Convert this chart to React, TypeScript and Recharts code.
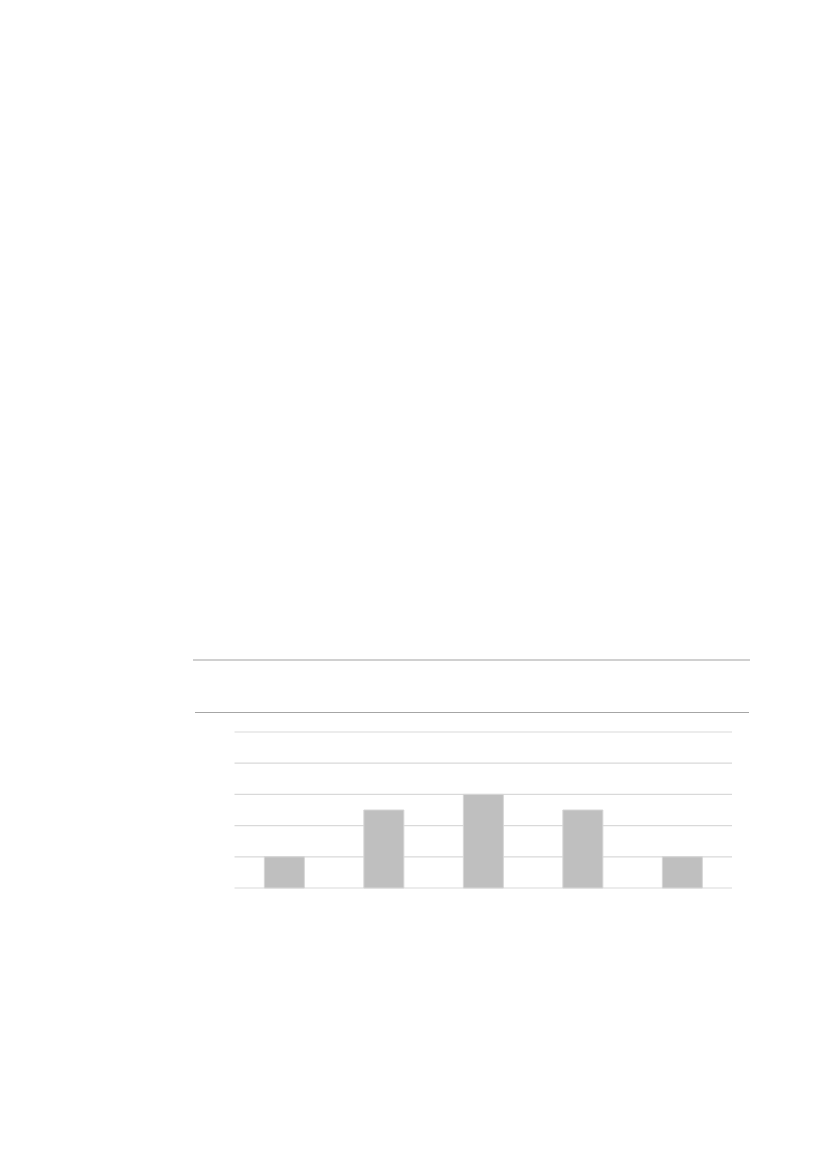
import { BarChart, Bar, XAxis, YAxis, CartesianGrid } from "recharts";

const categories = ["A", "B", "C", "D", "E"];
const values = [1, 2.5, 3, 2.5, 1];
const yTicks = [0, 1, 2, 3, 4, 5];

const data = categories.map((name, i) => ({ name, value: values[i] }));

export default function App() {
  return (
    <div
      style={{
        position: "absolute",
        left: 0,
        top: 0,
        width: 827,
        height: 1169,
        background: "#fff",
      }}
    >
      {/* page rules above the chart */}
      <div
        style={{
          position: "absolute",
          left: 193,
          top: 659,
          width: 557,
          height: 2,
          background: "#d0d0d0",
        }}
      />
      <div
        style={{
          position: "absolute",
          left: 195,
          top: 711.5,
          width: 554,
          height: 1.4,
          background: "#a6a6a6",
        }}
      />
      <div style={{ position: "absolute", left: 200, top: 720 }}>
        <BarChart
          width={560}
          height={190}
          data={data}
          margin={{ top: 12, right: 28, bottom: 22, left: 34.5 }}
          barCategoryGap="30%"
        >
          <CartesianGrid
            vertical={false}
            stroke="#d9d9d9"
            strokeWidth={1.2}
          />
          <XAxis dataKey="name" hide />
          <YAxis hide domain={[0, 5]} ticks={yTicks} />
          <Bar
            dataKey="value"
            fill="#bfbfbf"
            stroke="#d6d6d6"
            strokeWidth={1}
            isAnimationActive={false}
          />
        </BarChart>
      </div>
    </div>
  );
}
